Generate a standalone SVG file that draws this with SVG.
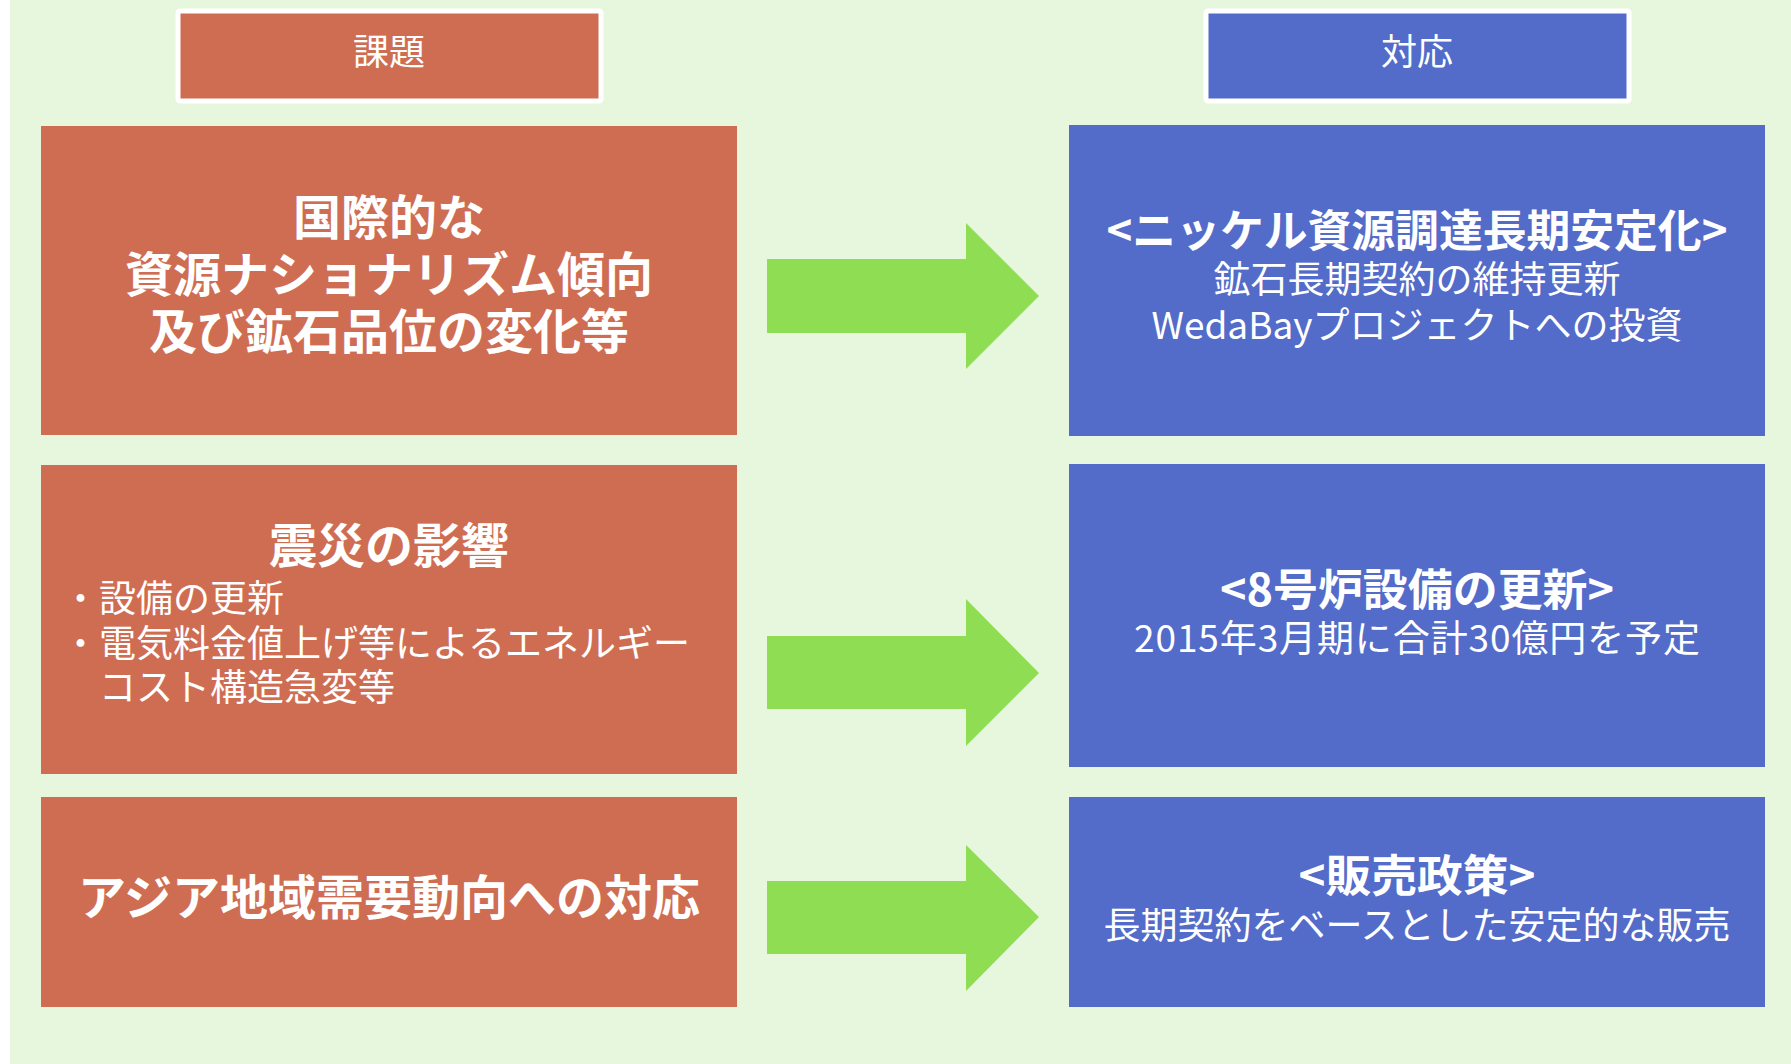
<svg xmlns="http://www.w3.org/2000/svg" width="1791" height="1064" viewBox="0 0 1791 1064">
<style>
text{font-family:"Noto Sans CJK JP","Noto Sans CJK SC",sans-serif;fill:#ffffff}
.h{font-size:36px;text-anchor:middle}
.lt{font-size:48px;font-weight:bold;text-anchor:middle}
.rt{font-size:44px;font-weight:bold;text-anchor:middle}
.b{font-size:37px}
.bc{font-size:37px;text-anchor:middle}
.red{fill:#CF6D53}
.blue{fill:#536BC9}
.arrow{fill:#8FDD52}
</style>
<rect x="0" y="0" width="1791" height="1064" fill="#ffffff"/>
<rect x="10" y="0" width="1781" height="1064" fill="#E7F7DD"/>
<g id="header-kadai">
<rect x="178" y="11" width="423" height="90" rx="2" class="red" stroke="#ffffff" stroke-width="5"/>
<text class="h" x="389" y="65">課題</text>
</g>
<g id="header-taiou">
<rect x="1206" y="11" width="423" height="90" rx="2" class="blue" stroke="#ffffff" stroke-width="5"/>
<text class="h" x="1417" y="65">対応</text>
</g>
<g id="issue1">
<rect x="41" y="126" width="696" height="309" class="red"/>
<text class="lt"><tspan x="389" y="235">国際的な</tspan><tspan x="389" y="292">資源ナショナリズム傾向</tspan><tspan x="389" y="349">及び鉱石品位の変化等</tspan></text>
</g>
<g id="issue2">
<rect x="41" y="465" width="696" height="309" class="red"/>
<text class="lt" x="389" y="563">震災の影響</text>
<text class="b"><tspan x="62" y="612">・設備の更新</tspan><tspan x="62" y="657">・電気料金値上げ等によるエネルギー</tspan><tspan x="99" y="701">コスト構造急変等</tspan></text>
</g>
<g id="issue3">
<rect x="41" y="797" width="696" height="210" class="red"/>
<text class="lt" x="389" y="915">アジア地域需要動向への対応</text>
</g>
<g id="response1">
<rect x="1069" y="125" width="696" height="311" class="blue"/>
<text class="rt" x="1417" y="247" textLength="621" lengthAdjust="spacingAndGlyphs">&lt;ニッケル資源調達長期安定化&gt;</text>
<text class="bc"><tspan x="1417" y="293">鉱石長期契約の維持更新</tspan><tspan x="1417" y="339">WedaBayプロジェクトへの投資</tspan></text>
</g>
<g id="response2">
<rect x="1069" y="464" width="696" height="303" class="blue"/>
<text class="rt" x="1417" y="606" textLength="394" lengthAdjust="spacingAndGlyphs">&lt;8号炉設備の更新&gt;</text>
<text class="bc" x="1417" y="652" textLength="566" lengthAdjust="spacing">2015年3月期に合計30億円を予定</text>
</g>
<g id="response3">
<rect x="1069" y="797" width="696" height="210" class="blue"/>
<text class="rt" x="1417" y="892" textLength="237" lengthAdjust="spacingAndGlyphs">&lt;販売政策&gt;</text>
<text class="bc" x="1417" y="939">長期契約をベースとした安定的な販売</text>
</g>
<g id="connectors">
<polygon class="arrow" points="767,259 966,259 966,223 1039,296 966,369 966,333 767,333"/>
<polygon class="arrow" points="767,636 966,636 966,599 1039,673 966,746 966,709 767,709"/>
<polygon class="arrow" points="767,881 966,881 966,845 1039,917 966,991 966,954 767,954"/>
</g>
</svg>
